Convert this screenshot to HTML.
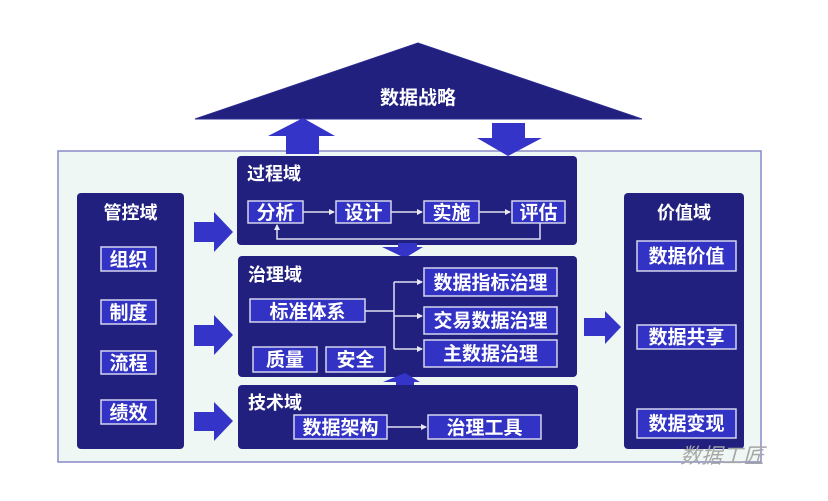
<!DOCTYPE html>
<html><head><meta charset="utf-8">
<style>
html,body{margin:0;padding:0;background:#fff;}
svg{display:block;}
text{font-family:"Liberation Sans","Noto Sans CJK SC",sans-serif;font-weight:bold;fill:#fff;}
</style></head><body>
<svg width="828" height="501" viewBox="0 0 828 501" xmlns="http://www.w3.org/2000/svg">
<defs>
<marker id="ah" markerWidth="6" markerHeight="6" refX="5" refY="3" orient="auto" markerUnits="userSpaceOnUse">
<path d="M0,0 L6,3 L0,6 z" fill="#e8e8f4"/>
</marker>
</defs>
<!-- outer box -->
<rect x="58" y="151" width="703" height="311" fill="#eef7f3" stroke="#8a8ac8" stroke-width="1.5"/>
<!-- triangle -->
<polygon points="418,43 195,119 642,119" fill="#21207f" stroke="#2a2a90" stroke-width="1"/>
<text x="418" y="104" font-size="19" text-anchor="middle">数据战略</text>
<!-- up arrow -->
<polygon points="303,118 268,136 286,136 286,154 319,154 319,136 335,136" fill="#3434c8"/>
<!-- down arrow -->
<polygon points="492,123 525,123 525,138 542,138 508,156 477,138 492,138" fill="#3434c8"/>

<!-- process domain -->
<rect x="237" y="156" width="340" height="89" rx="4" fill="#21207f"/>
<text x="247" y="180" font-size="18">过程域</text>
<g stroke="#d4d4ee" stroke-width="1.5" fill="#3232c4">
<rect x="248" y="201" width="55" height="22"/>
<rect x="336" y="201" width="55" height="22"/>
<rect x="424" y="201" width="55" height="22"/>
<rect x="512" y="201" width="53" height="22"/>
</g>
<g font-size="19" text-anchor="middle">
<text x="275.5" y="219">分析</text>
<text x="363.5" y="219">设计</text>
<text x="451.5" y="219">实施</text>
<text x="538.5" y="219">评估</text>
</g>
<g stroke="#e0e0f0" stroke-width="1.5" fill="none">
<line x1="303" y1="212" x2="334" y2="212" marker-end="url(#ah)"/>
<line x1="391" y1="212" x2="422" y2="212" marker-end="url(#ah)"/>
<line x1="479" y1="212" x2="510" y2="212" marker-end="url(#ah)"/>
<polyline points="540,223 540,239 277,239 277,225" marker-end="url(#ah)"/>
</g>
<!-- small down arrow -->
<polygon points="398,243 417,243 417,247 423,247 405,258 382,247 398,247" fill="#3434c8"/>

<!-- governance domain -->
<rect x="238" y="256" width="339" height="121" rx="4" fill="#21207f"/>
<text x="248" y="281" font-size="18">治理域</text>
<g stroke="#d4d4ee" stroke-width="1.5" fill="#3232c4">
<rect x="250" y="299" width="115" height="23"/>
<rect x="253" y="347" width="64" height="25"/>
<rect x="326" y="347" width="59" height="25"/>
<rect x="424" y="268" width="133" height="28"/>
<rect x="424" y="307" width="133" height="27"/>
<rect x="424" y="340" width="133" height="27"/>
</g>
<g font-size="19" text-anchor="middle">
<text x="307.5" y="318">标准体系</text>
<text x="285" y="366">质量</text>
<text x="355.5" y="366">安全</text>
<text x="490.5" y="289">数据指标治理</text>
<text x="490.5" y="327">交易数据治理</text>
<text x="490.5" y="360">主数据治理</text>
</g>
<g stroke="#e0e0f0" stroke-width="1.5" fill="none">
<line x1="365" y1="311" x2="394" y2="311"/>
<line x1="394" y1="282" x2="394" y2="349"/>
<line x1="394" y1="282" x2="422" y2="282" marker-end="url(#ah)"/>
<line x1="394" y1="316" x2="422" y2="316" marker-end="url(#ah)"/>
<line x1="394" y1="349" x2="422" y2="349" marker-end="url(#ah)"/>
</g>
<!-- small up arrow -->
<polygon points="405,373 420,382 414,382 414,387 396,387 396,382 383,382" fill="#3434c8"/>

<!-- tech domain -->
<rect x="238" y="385" width="340" height="64" rx="4" fill="#21207f"/>
<text x="248" y="409" font-size="18">技术域</text>
<g stroke="#d4d4ee" stroke-width="1.5" fill="#3232c4">
<rect x="294" y="415" width="93" height="24"/>
<rect x="428" y="415" width="113" height="24"/>
</g>
<g font-size="19" text-anchor="middle">
<text x="340.5" y="434">数据架构</text>
<text x="484.5" y="434">治理工具</text>
</g>
<line x1="387" y1="427" x2="426" y2="427" stroke="#e0e0f0" stroke-width="1.5" marker-end="url(#ah)"/>

<!-- control domain -->
<rect x="77" y="193" width="107" height="256" rx="4" fill="#21207f"/>
<text x="130.5" y="219" font-size="18" text-anchor="middle">管控域</text>
<g stroke="#d4d4ee" stroke-width="1.5" fill="#3232c4">
<rect x="101" y="247" width="55" height="24"/>
<rect x="101" y="300" width="55" height="24"/>
<rect x="101" y="351" width="55" height="23"/>
<rect x="101" y="400" width="55" height="24"/>
</g>
<g font-size="19" text-anchor="middle">
<text x="128.5" y="266">组织</text>
<text x="128.5" y="319">制度</text>
<text x="128.5" y="369.5">流程</text>
<text x="128.5" y="419">绩效</text>
</g>
<!-- right arrows from control -->
<g fill="#3434c8">
<polygon points="194,222 214,222 214,212 233,232 214,252 214,242 194,242"/>
<polygon points="194,325 214,325 214,315 233,335 214,355 214,346 194,346"/>
<polygon points="194,412 214,412 214,402 233,421 214,441 214,431 194,431"/>
<polygon points="584,318 605,318 605,311 621,327 605,344 605,336 584,336"/>
</g>

<!-- value domain -->
<rect x="624" y="193" width="120" height="256" rx="4" fill="#21207f"/>
<text x="684" y="219" font-size="18" text-anchor="middle">价值域</text>
<g stroke="#d4d4ee" stroke-width="1.5" fill="#3232c4">
<rect x="637" y="241" width="99" height="30"/>
<rect x="637" y="325" width="99" height="24"/>
<rect x="637" y="409" width="99" height="29"/>
</g>
<g font-size="19" text-anchor="middle">
<text x="686.5" y="262.5">数据价值</text>
<text x="686.5" y="343.5">数据共享</text>
<text x="686.5" y="430">数据变现</text>
</g>

<!-- watermark -->
<g transform="translate(680,463) skewX(-15)">
<text x="0" y="0" font-size="21" style="fill:#a6a6a6;font-weight:normal">数据工匠</text>
</g>
</svg>
</body></html>
